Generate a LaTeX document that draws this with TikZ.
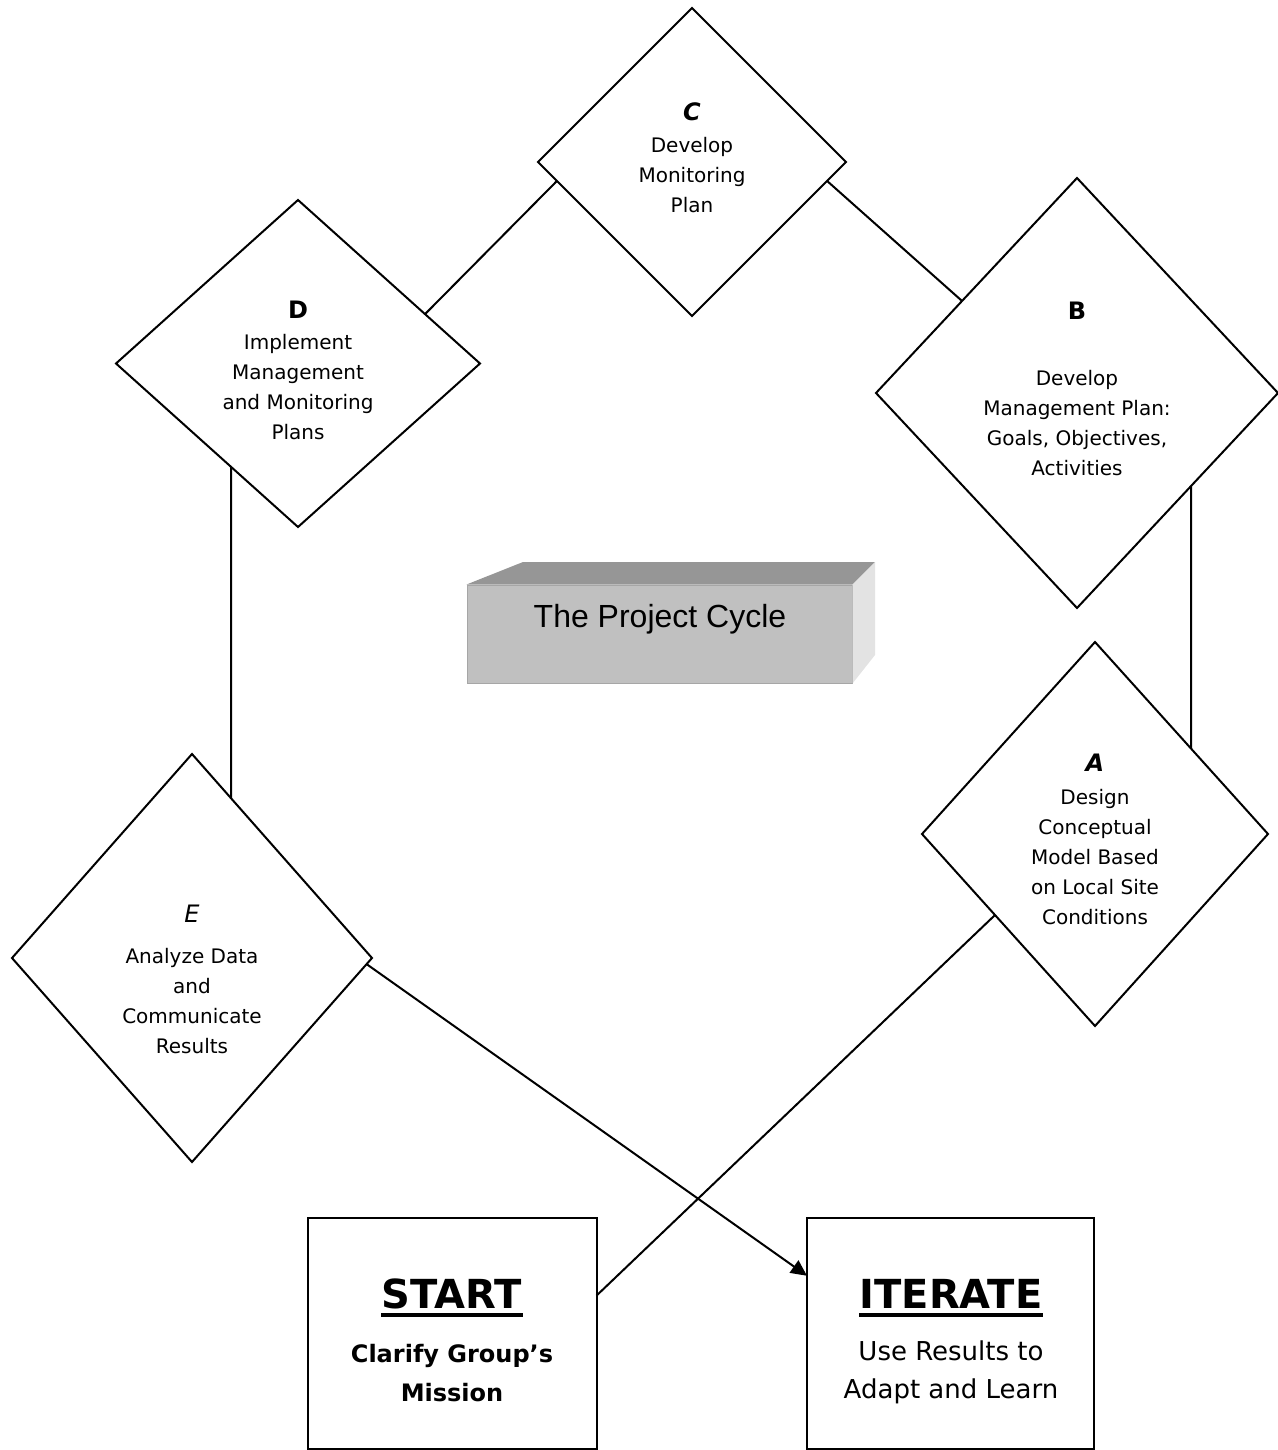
\documentclass[tikz,border=0pt]{standalone}
\usepackage{fontspec}
\setmainfont{DejaVu Sans}
\newfontfamily\arialfont{Liberation Sans}
\usepackage{tikz}
\usetikzlibrary{calc,shapes.geometric,arrows.meta}
\definecolor{boxtop}{HTML}{969696}
\definecolor{boxfront}{HTML}{C0C0C0}
\definecolor{boxside}{HTML}{E3E3E3}
\def\stageletter#1{{\fontsize{12}{15}\selectfont #1}}

\begin{document}
\begin{tikzpicture}[x=0.5pt,y=-0.5pt,
		stage/.style={diamond,draw,line width=1pt,inner sep=0pt,outer sep=0pt},
		stagetext/.style={align=center,inner sep=0pt,font=\fontsize{10}{15}\selectfont},
		endbox/.style={rectangle,draw,line width=1pt,inner sep=0pt,outer sep=0pt},
		link/.style={line width=1pt}]
			%%%%% START %%%%%
			\useasboundingbox (0,0) rectangle (1278,1450);
			
			\node[stage,minimum width=154pt,minimum height=154pt] (C) at (692,162) {};
			\node[stage,minimum width=182pt,minimum height=163.5pt] (D) at (298,363.5) {};
			\node[stage,minimum width=201pt,minimum height=215pt] (B) at (1077,393) {};
			\node[stage,minimum width=173pt,minimum height=192pt] (A) at (1095,834) {};
			\node[stage,minimum width=180pt,minimum height=204pt] (E) at (192,958) {};
			
			\node[stagetext] (Ctext) at (692,158) {\stageletter{\textbf{\textit{C}}}\\[1pt]Develop\\Monitoring\\Plan};
			\node[stagetext] (Dtext) at (298,370.5) {\stageletter{\textbf{D}}\\[0.5pt]Implement\\Management\\and Monitoring\\Plans};
			\node[stagetext] (Btext) at (1077,389) {\stageletter{\textbf{B}}\\[18pt]Develop\\Management Plan:\\Goals, Objectives,\\Activities};
			\node[stagetext] (Atext) at (1095,839.5) {\stageletter{\textbf{\textit{A}}}\\[1.5pt]Design\\Conceptual\\Model Based\\on Local Site\\Conditions};
			\node[stagetext] (Etext) at (192,979.5) {\stageletter{\textit{E}}\\[5.5pt]Analyze Data\\and\\Communicate\\Results};
			
			% the 3d box in the middle
			\node[fill=boxfront,draw=gray!70,line width=0.5pt,minimum width=192.5pt,minimum height=49pt,inner sep=0pt] (projbox) at (659.5,634) {};
			\fill[boxtop] (projbox.north west) -- (523,562) -- (875,562) -- (projbox.north east) -- cycle;
			\fill[boxside] (projbox.north east) -- (875,562) -- (875,655) -- (projbox.south east) -- cycle;
			\node[anchor=base,inner sep=0pt,font=\arialfont\fontsize{16}{19}\selectfont] (projtext) at (660,627) {The Project Cycle};
			
			\node[endbox,minimum width=144.5pt,minimum height=115.5pt] (START) at (452,1333.5) {};
			\node[endbox,minimum width=143.5pt,minimum height=115.5pt] (ITERATE) at (950.5,1333.5) {};
			
			\node[anchor=base,inner sep=0pt,font=\fontsize{20}{24}\selectfont\bfseries] (starttitle) at (452,1308) {START};
			\draw[line width=2pt] ([yshift=-3.5pt]starttitle.base west) -- ([yshift=-3.5pt]starttitle.base east);
			\node[align=center,inner sep=0pt,font=\fontsize{12}{19.5}\selectfont\bfseries] (startbody) at (452,1373.5) {Clarify Group’s\\Mission};
			
			\node[anchor=base,inner sep=0pt,font=\fontsize{20}{24}\selectfont\bfseries] (itertitle) at (951,1308) {ITERATE};
			\draw[line width=2pt] ([yshift=-3.5pt]itertitle.base west) -- ([yshift=-3.5pt]itertitle.base east);
			\node[align=center,inner sep=0pt,font=\fontsize{13}{19}\selectfont] (iterbody) at (951,1372) {Use Results to\\Adapt and Learn};
			
			\draw[link] ($(C.west)!0.123!(C.south)$) -- ($(D.north)!0.698!(D.east)$);
			\draw[link] ($(C.east)!0.123!(C.south)$) -- ($(B.north)!0.572!(B.west)$);
			\draw[link] ($(B.east)!0.43284!(B.south)$) -- ($(A.north)!0.55491!(A.east)$);
			\draw[link] ($(D.west)!0.632!(D.south)$) -- ($(E.north)!0.217!(E.east)$);
			\draw[link] ($(A.west)!0.422!(A.south)$) -- ($(START.north east)!0.336!(START.south east)$);
			\draw[link,-{Triangle[length=8pt,width=7.5pt]}] ($(E.east)!0.03!(E.south)$) -- ($(ITERATE.north west)!0.25!(ITERATE.south west)$);
			
			%%%%% END %%%%%
		\end{tikzpicture}
\end{document}
